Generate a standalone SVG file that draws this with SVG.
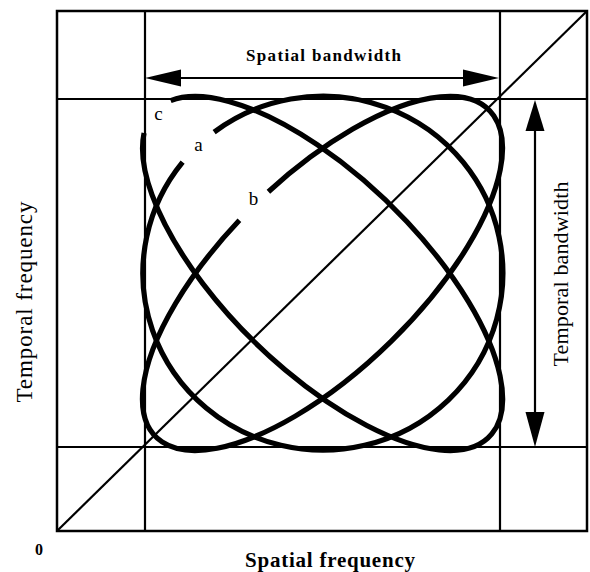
<svg xmlns="http://www.w3.org/2000/svg" width="590" height="572" viewBox="0 0 590 572">
<style>
.frame{fill:none;stroke:#000;stroke-width:2.5}
.grid{stroke:#000;stroke-width:2.2;fill:none}
.curve{fill:none;stroke:#000;stroke-width:5.2;stroke-linecap:butt}
.head{fill:#000}
.lbl{font-family:"Liberation Serif","Times New Roman",serif;fill:#000}
</style>
<rect width="590" height="572" fill="#fff"/>
<g id="axes">
<rect class="frame" x="57" y="11" width="530" height="520"/>
<line class="grid" x1="145" y1="11" x2="145" y2="531"/>
<line class="grid" x1="500" y1="11" x2="500" y2="531"/>
<line class="grid" x1="57" y1="99" x2="587" y2="99"/>
<line class="grid" x1="57" y1="447" x2="587" y2="447"/>
<line class="grid" x1="57" y1="531" x2="587" y2="11" stroke-width="2.6"/>
</g>
<g id="curves" transform="translate(322.5 273.5) scale(180 177)">
<path id="curve-a" class="curve" vector-effect="non-scaling-stroke" d="M -0.602 -0.799 A 1 1 0 1 1 -0.777 -0.629"/>
<path id="curve-b" class="curve" vector-effect="non-scaling-stroke" transform="rotate(-45)" d="M 0.114 -0.539 A 1.307 0.541 0 1 1 -0.114 -0.539"/>
<path id="curve-c" class="curve" vector-effect="non-scaling-stroke" transform="rotate(45)" d="M -1.287 -0.094 A 1.307 0.541 0 1 1 -1.262 0.140"/>
</g>
<g id="connectors">
<line class="grid" x1="175" y1="78" x2="470" y2="78"/>
<polygon class="head" points="145,78 181,69.5 181,86.5"/>
<polygon class="head" points="499,78 463,69.5 463,86.5"/>
<line class="grid" x1="535" y1="125" x2="535" y2="418"/>
<polygon class="head" points="535,100 525.5,131 544.5,131"/>
<polygon class="head" points="535,447 525.5,412 544.5,412"/>
</g>
<g id="labels">
<text class="lbl" x="323.5" y="61" font-size="17" font-weight="bold" text-anchor="middle" textLength="155" lengthAdjust="spacing">Spatial bandwidth</text>
<text class="lbl" x="330" y="566.5" font-size="21" font-weight="bold" text-anchor="middle" textLength="170" lengthAdjust="spacing">Spatial frequency</text>
<text class="lbl" transform="translate(32 302) rotate(-90)" font-size="23" text-anchor="middle" textLength="201" lengthAdjust="spacing">Temporal frequency</text>
<text class="lbl" transform="translate(568 274) rotate(-90)" font-size="22" text-anchor="middle" textLength="185" lengthAdjust="spacing">Temporal bandwidth</text>
<text class="lbl" x="39" y="555" font-size="16" font-weight="bold" text-anchor="middle">0</text>
<text class="lbl" x="158.5" y="120" font-size="19" text-anchor="middle">c</text>
<text class="lbl" x="198.5" y="151" font-size="19" text-anchor="middle">a</text>
<text class="lbl" x="253.5" y="205" font-size="19" text-anchor="middle">b</text>
</g>
</svg>
